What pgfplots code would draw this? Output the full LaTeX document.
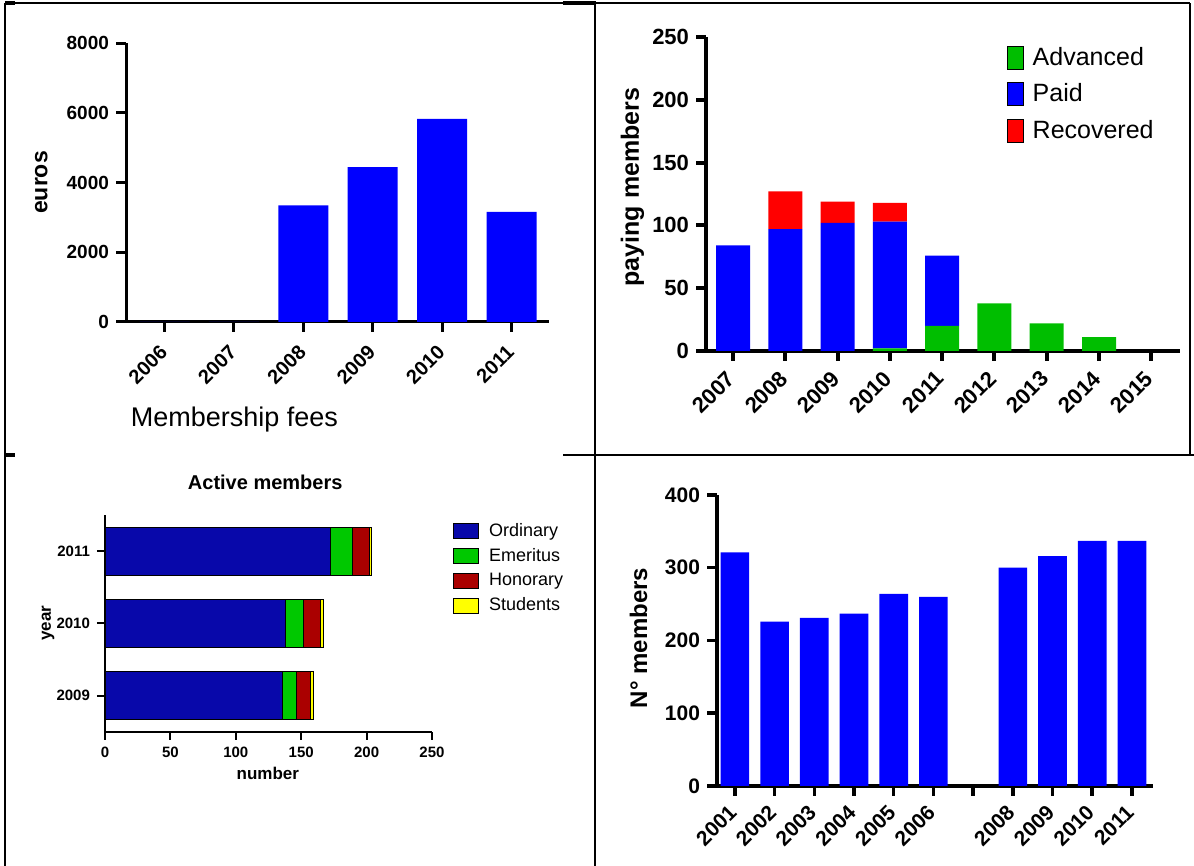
\documentclass[border=0pt]{standalone}
\usepackage{fontspec}
\setmainfont{Liberation Sans}
\usepackage{pgfplots}
\pgfplotsset{compat=1.18}

\definecolor{gpblue}{RGB}{0,0,255}
\definecolor{gpgreen}{RGB}{0,190,0}
\definecolor{gpred}{RGB}{255,0,0}
\definecolor{ordblue}{RGB}{8,8,170}
\definecolor{emgreen}{RGB}{0,200,0}
\definecolor{honred}{RGB}{170,0,0}
\definecolor{stuyellow}{RGB}{255,255,0}

\pgfplotsset{
  gp/.style={
    scale only axis,
    anchor=south west,
    axis lines=left,
    axis line style={-, line width=1.5pt},
    tick style={black, line width=1.5pt},
    tick align=outside,
    major tick length=5pt,
    enlargelimits=false,
    clip=false,
    /pgf/number format/1000 sep={},
    /pgf/number format/assume math mode=true,
  },
}

\begin{document}
\begin{tikzpicture}
\path[use as bounding box] (0,0) rectangle (597pt,433pt);

% table rules
\draw[line width=1pt] (2.5pt,431.5pt) -- (595pt,431.5pt);
\draw[line width=1pt] (2.5pt,0) -- (2.5pt,431.5pt);
\draw[line width=1pt] (297.5pt,0) -- (297.5pt,431.5pt);
\draw[line width=1pt] (595pt,205.5pt) -- (595pt,431.5pt);
\draw[line width=1pt] (281.5pt,205.5pt) -- (597pt,205.5pt);
\draw[line width=2pt] (2.5pt,205.5pt) -- (7.5pt,205.5pt);
\draw[line width=2pt] (2.5pt,431.5pt) -- (7.5pt,431.5pt);
\draw[line width=2pt] (281.5pt,431.5pt) -- (298pt,431.5pt);

% membership fees
\begin{axis}[gp,
  at={(63pt,272pt)}, width=211.5pt, height=139.5pt,
  xmin=2005.445, xmax=2011.54, ymin=0, ymax=8000,
  xtick={2006,...,2011}, ytick={0,2000,...,8000},
  ybar, bar width=25pt,
  tick label style={font=\bfseries\fontsize{9.5}{11}\selectfont},
  xticklabel style={font=\bfseries\fontsize{10}{12}\selectfont,
    xshift=2pt, yshift=-6pt, rotate=45, anchor=east},
  ylabel={euros},
  ylabel style={font=\bfseries\fontsize{11.5}{13}\selectfont,
    at={(axis description cs:-0.2,0.5)}, anchor=center},
  xlabel={Membership fees},
  xlabel style={font=\fontsize{13.5}{15}\selectfont,
    at={(axis description cs:-0.005,-0.351)}, anchor=west},
]
\addplot[fill=gpblue, draw=none] coordinates {
  (2006,0) (2007,0) (2008,3345) (2009,4440) (2010,5825) (2011,3155)};
\end{axis}

% paying members
\begin{axis}[gp,
  at={(353pt,257.5pt)}, width=237pt, height=157pt,
  xmin=2006.48, xmax=2015.55, ymin=0, ymax=250,
  xtick={2007,...,2015}, ytick={0,50,...,250},
  ybar stacked, bar width=17pt,
  axis line style={-, line width=2pt}, tick style={line width=2pt},
  tick label style={font=\bfseries\fontsize{11}{13}\selectfont},
  xticklabel style={xshift=1.5pt, yshift=-4.5pt, rotate=45, anchor=east},
  ylabel={paying members},
  ylabel style={font=\bfseries\fontsize{12.5}{14}\selectfont,
    at={(axis description cs:-0.155,0.522)}, anchor=center},
  legend image code/.code={\draw[#1] (0pt,-5.75pt) rectangle (8pt,5.75pt);},
  legend style={draw=none, fill=none, inner sep=0pt, column sep=2.5pt,
    at={(axis description cs:0.634,0.98)},
    anchor=north west, font=\fontsize{12.5}{14}\selectfont, row sep=3.5pt},
  legend cell align=left,
]
\addplot[fill=gpgreen, draw=none] coordinates {
  (2007,0) (2008,0) (2009,0) (2010,2) (2011,20) (2012,38) (2013,22) (2014,11) (2015,0)};
\addplot[fill=gpblue, draw=none] coordinates {
  (2007,84) (2008,97) (2009,102) (2010,101) (2011,56) (2012,0) (2013,0) (2014,0) (2015,0)};
\addplot[fill=gpred, draw=none] coordinates {
  (2007,0) (2008,30) (2009,17) (2010,15) (2011,0) (2012,0) (2013,0) (2014,0) (2015,0)};
\legend{Advanced,Paid,Recovered}
\end{axis}

% active members
\begin{axis}[gp,
  at={(52.5pt,67pt)}, width=163.5pt, height=108.5pt,
  xmin=0, xmax=250, ymin=-0.5, ymax=2.5,
  xtick={0,50,...,250}, ytick={0,1,2}, yticklabels={2009,2010,2011},
  xbar stacked, bar width=24pt,
  axis line style={-, line width=1pt}, tick style={line width=1pt},
  major tick length=4pt,
  tick label style={font=\bfseries\fontsize{7.5}{9}\selectfont},
  title={Active members},
  title style={font=\bfseries\fontsize{10}{12}\selectfont,
    at={(axis description cs:0.49,1.095)}, anchor=center},
  xlabel={number},
  xlabel style={font=\bfseries\fontsize{8.5}{10}\selectfont,
    at={(axis description cs:0.498,-0.189)}, anchor=center},
  ylabel={year},
  ylabel style={font=\bfseries\fontsize{8.5}{10}\selectfont,
    at={(axis description cs:-0.174,0.502)}, anchor=center},
  legend image code/.code={\draw[#1] (0pt,-3.75pt) rectangle (12.5pt,3.75pt);},
  legend style={draw=none, fill=none, inner sep=0pt, column sep=3pt,
    at={(axis description cs:1.064,0.982)},
    anchor=north west, font=\fontsize{9}{11}\selectfont, row sep=0.5pt},
  legend cell align=left,
]
\addplot[fill=ordblue, draw=black, line width=0.4pt] coordinates {(136,0) (138,1) (172,2)};
\addplot[fill=emgreen, draw=black, line width=0.4pt] coordinates {(10,0) (14,1) (17,2)};
\addplot[fill=honred, draw=black, line width=0.4pt] coordinates {(11,0) (13,1) (13,2)};
\addplot[fill=stuyellow, draw=black, line width=0.4pt] coordinates {(2,0) (2,1) (2,2)};
\legend{Ordinary,Emeritus,Honorary,Students}
\end{axis}

% number of members
\begin{axis}[gp,
  at={(358.5pt,40pt)}, width=218pt, height=145.5pt,
  xmin=2000.55, xmax=2011.53, ymin=0, ymax=400,
  xtick={2001,...,2011},
  xticklabels={2001,2002,2003,2004,2005,2006,,2008,2009,2010,2011},
  ytick={0,100,...,400},
  ybar, bar width=14.3pt,
  axis line style={-, line width=1.75pt}, tick style={line width=1.75pt},
  tick label style={font=\bfseries\fontsize{10.5}{12}\selectfont},
  xticklabel style={xshift=1.5pt, yshift=-4pt, rotate=45, anchor=east},
  ylabel={N° members},
  ylabel style={font=\bfseries\fontsize{12}{14}\selectfont,
    at={(axis description cs:-0.18,0.509)}, anchor=center},
]
\addplot[fill=gpblue, draw=none] coordinates {
  (2001,321) (2002,226) (2003,231) (2004,237) (2005,264) (2006,260)
  (2008,300) (2009,316) (2010,337) (2011,337)};
\end{axis}
\end{tikzpicture}
\end{document}
